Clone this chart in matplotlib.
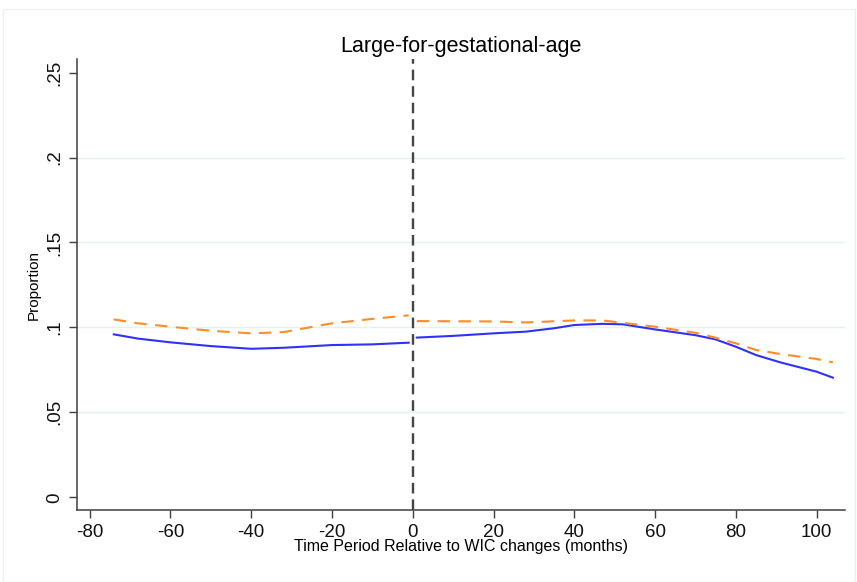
import matplotlib
matplotlib.use("Agg")
import matplotlib.pyplot as plt
from matplotlib.patches import Rectangle

# Values (smoothed proportions by month relative to WIC changes)
pre_months = [-74, -68, -60, -50, -40, -32, -20, -10, -1]
pre_control = [0.0959, 0.0934, 0.0912, 0.0890, 0.0874, 0.0880, 0.0896, 0.0900, 0.0910]
pre_treated = [0.1047, 0.1024, 0.1004, 0.0980, 0.0965, 0.0972, 0.1024, 0.1050, 0.1071]

post_months = [1, 10, 20, 28, 35, 40, 47, 52, 60, 70, 75, 80, 85, 91, 100, 104]
post_control = [0.0940, 0.0950, 0.0965, 0.0975, 0.0995, 0.1014, 0.1021, 0.1018, 0.0988,
                0.0954, 0.0929, 0.0886, 0.0837, 0.0794, 0.0739, 0.0704]
post_treated = [0.1037, 0.1036, 0.1035, 0.1029, 0.1036, 0.1041, 0.1041, 0.1027, 0.1004,
                0.0968, 0.0939, 0.0906, 0.0867, 0.0843, 0.0814, 0.0794]

x_ticks = [-80, -60, -40, -20, 0, 20, 40, 60, 80, 100]
y_ticks = [0, 0.05, 0.10, 0.15, 0.20, 0.25]
y_tick_labels = ["0", ".05", ".1", ".15", ".2", ".25"]

plt.rcParams['font.family'] = ['Liberation Sans', 'DejaVu Sans']
plt.rcParams['axes.unicode_minus'] = False

fig = plt.figure(figsize=(8.57, 5.82), dpi=100)
fig.patch.set_facecolor('white')
# faint outer frame like the exported graph region
fig.patches.append(Rectangle((0.004, 0.0), 0.994, 0.984, transform=fig.transFigure,
                             fill=False, edgecolor='#eef0f0', linewidth=1))

ax = fig.add_axes([77 / 857, 1 - 510 / 582, (845 - 77) / 857, (510 - 59) / 582])

BLUE = '#3030ff'
ORANGE = '#ff8c26'

ax.plot(pre_months, pre_control, color=BLUE, lw=1.5)
ax.plot(post_months, post_control, color=BLUE, lw=1.5)
ax.plot(pre_months, pre_treated, color=ORANGE, lw=1.5, dashes=(6, 4))
ax.plot(post_months, post_treated, color=ORANGE, lw=1.5, dashes=(6, 4))

ax.axvline(0, color='#454545', lw=1.7, dashes=(4.5, 2.5))

ax.set_xlim(-83.1, 107)
ax.set_ylim(-0.0075, 0.258)

for v in [0.05, 0.10, 0.15, 0.20]:
    ax.axhline(v, color='#e6f0f2', lw=1, zorder=0)

ax.set_xticks(x_ticks)
ax.set_yticks(y_ticks)
ax.set_yticklabels(y_tick_labels, rotation=90, va='center')
ax.tick_params(axis='both', direction='out', length=6, width=1, color='#404040',
               labelsize=13.5, labelcolor='#111111', pad=4)

for side in ['top', 'right']:
    ax.spines[side].set_visible(False)
for side in ['left', 'bottom']:
    ax.spines[side].set_color('#404040')
    ax.spines[side].set_linewidth(1.1)

ax.set_title('Large-for-gestational-age', fontsize=15.5, pad=5)
ax.set_xlabel('Time Period Relative to WIC changes (months)', fontsize=11.5, labelpad=-1)
ax.set_ylabel('Proportion', fontsize=11, labelpad=4)

fig.savefig('out.png', dpi=100)
